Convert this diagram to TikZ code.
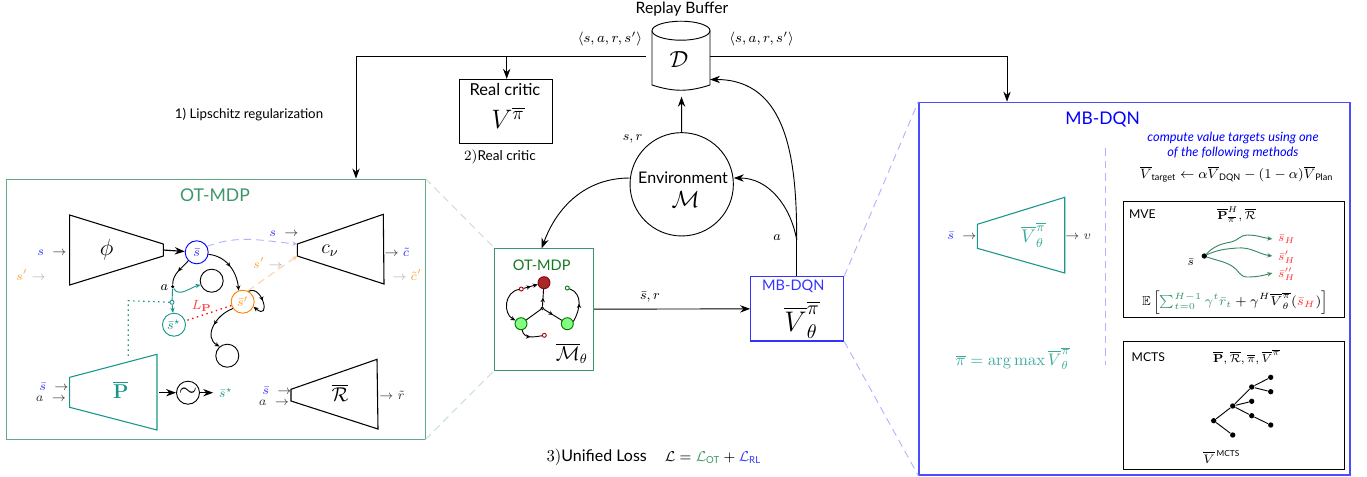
\documentclass[tikz,border=0pt]{standalone}
\usepackage{fix-cm}
\usepackage{amsmath,amssymb}
\usepackage[no-math]{fontspec}
\setmainfont[Scale=0.96]{Lato}
\usetikzlibrary{arrows.meta,decorations.markings,fit}
\definecolor{otgreen}{RGB}{60,150,105}
\definecolor{otdark}{RGB}{20,120,30}
\definecolor{tealnet}{RGB}{25,150,140}
\definecolor{tealsoft}{RGB}{60,170,155}
\definecolor{sprime}{RGB}{250,160,50}
\definecolor{brownred}{RGB}{165,42,42}
\newcommand{\sbar}{\bar{s}}
\newcommand{\bV}{\overline{V}}
\newcommand{\bpi}{\overline{\pi}}
\newcommand{\bP}{\overline{\mathbf{P}}}
\newcommand{\bR}{\overline{\mathcal{R}}}
\newcommand{\fsize}[1]{\fontsize{#1}{#1}\selectfont}
\tikzset{
    bigtip/.style={-{Stealth[length=6pt,width=4.4pt]}},
    smalltip/.style={-{Stealth[length=3pt,width=2.6pt]}},
    midtip/.style={postaction={decorate},decoration={markings,mark=at position 0.5 with {\arrow{Stealth[length=2.6pt,width=2.6pt]}}}},
    statenode/.style={circle,draw,inner sep=0pt,minimum size=13.8pt},
    tinynode/.style={circle,draw,inner sep=0pt,minimum size=2.4pt},
    dotnode/.style={circle,fill,inner sep=0pt,minimum size=3.2pt},
    bignode/.style={circle,inner sep=0pt,minimum size=7.2pt},
    bignet/.style={line width=0.65pt},
    framebox/.style={draw,inner sep=0pt,line width=0.55pt},
    fadeblue/.style={blue!30,dash pattern=on 4.5pt off 3pt},
    fadegreen/.style={otgreen!30,dash pattern=on 4.5pt off 3pt},
    spaced/.style={dash pattern=on 0.8pt off 2.2pt},
}
\begin{document}
\begin{tikzpicture}[x=0.6pt,y=-0.6pt,>=stealth,line width=0.55pt]
    \useasboundingbox (0,0) rectangle (1367,476);

    % replay buffer and environment
    \node (buffertitle) at (682,9) {\fsize{9.8}Replay Buffer};
    \node (buffer) [minimum width=34.8pt,minimum height=42pt,inner sep=0pt] at (681,56) {};
    \draw (652,30.7) arc (180:-180:29 and 9.5);
    \draw (652,30.7) -- (652,85) to[bend right=18] (710,85) -- (710,30.7);
    \node (bufferlabel) at (679,60) {\fsize{14}$\mathcal{D}$};
    \node (env) [circle,draw,inner sep=0pt,minimum size=62pt] at (681.7,184.3) {};
    \node (envtext) at (683,178) {Environment};
    \node (envmath) at (685.7,200) {\fsize{14}$\mathcal{M}$};
    \node (srtop) at (632.7,139) {\fsize{8}$s,r$};
    \node (tupleL) at (610,39) {\fsize{8.4}$\langle s,a,r,s'\rangle$};
    \node (tupleR) at (761.7,39) {\fsize{8.4}$\langle s,a,r,s'\rangle$};

    % real critic
    \coordinate (criticnw) at (459.7,79.3);
    \coordinate (criticse) at (552.7,143.3);
    \node (critic) [framebox,fit=(criticnw)(criticse)] {};
    \node (crittitle) at (505,89) {\fsize{10.3}Real critic};
    \node (critmath) at (508,118) {\fsize{16}$V^{\bpi}$};
    \node (critcaption) at (500,156.7) {\fsize{8.5}$2)$Real critic};
    \node (lipschitz) at (249,115) {\fsize{8.3}1) Lipschitz regularization};

    % small OT-MDP box
    \coordinate (otsmallnw) at (494.7,248.3);
    \coordinate (otsmallse) at (593.7,370);
    \node (otsmall) [framebox,draw=otgreen,fit=(otsmallnw)(otsmallse)] {};
    \node (otsmalltitle) at (541.7,265.7) {\fsize{9.1}\color{otdark}OT-MDP};
    \node (mbar) at (571.7,353.3) {\fsize{12}$\overline{\mathcal{M}}_\theta$};
    \node (red) [bignode,draw=red!60!black,fill=brownred] at (544,282.7) {};
    \node (gleft) [bignode,draw=green!45!black,fill=green!50!white] at (521,323.7) {};
    \node (gright) [bignode,draw=green!45!black,fill=green!50!white] at (567.3,323.7) {};
    \node (junction) [tinynode,minimum size=1.6pt] at (542.3,308.3) {};
    \node (redA) [tinynode,draw=red!70!black] at (521.3,289) {};
    \node (redB) [tinynode,draw=red!70!black] at (544.3,335.3) {};
    \node (greenA) [tinynode,draw=green!50!black] at (567.3,288) {};
    \draw (gleft) -- (junction);
    \draw[midtip] (junction) -- (gright);
    \draw[midtip] (junction) -- (red);
    \draw[midtip,smalltip] (redA) -- (red);
    \draw[smalltip] (redA) to[out=190,in=150,looseness=1.2] (gleft);
    \draw[midtip] (gright.20) to[out=60,in=-20,looseness=1.1] (greenA);
    \draw[midtip] (gleft.-80) to[out=-80,in=190,looseness=1.1] (redB);

    % small MB-DQN box
    \coordinate (mbsmallnw) at (750.7,276.7);
    \coordinate (mbsmallse) at (843.7,341);
    \node (mbsmall) [framebox,draw=blue!80,line width=0.65pt,fit=(mbsmallnw)(mbsmallse)] {};
    \node (mbsmalltitle) at (793.3,286.7) {\fsize{9.1}\color{blue!80}MB-DQN};
    \node (mbsmallmath) at (802,320) {\fsize{17}$\bV^{\bpi}_\theta$};
    \node (srmid) at (650,296.7) {\fsize{8}$\sbar,r$};
    \node (alabel) at (777,238) {\fsize{8}$a$};

    % big OT-MDP box
    \coordinate (otbignw) at (6,179);
    \coordinate (otbigse) at (425,439);
    \node (otbig) [framebox,draw=otgreen!80,fit=(otbignw)(otbigse)] {};
    \node (otbigtitle) at (215,195) {\fsize{11}\color{otgreen}OT-MDP};
    \draw[bignet] (69.7,215) -- (163.3,244) -- (163.3,256) -- (69.7,285) -- cycle;
    \node (phi) at (106.7,250) {\fsize{14}$\phi$};
    \node (sin) at (52,252.3) {\fsize{7.5}$\color{blue!80}s\;\color{black!80}\rightarrow$};
    \node (sprimein) at (31,275) {\fsize{7.5}$\color{sprime}s'\color{black!30}\rightarrow$};
    \draw[bignet] (297.3,244) -- (383.3,214.3) -- (384,284) -- (297.3,256) -- cycle;
    \node (cnu) at (330,250.7) {\fsize{12}$c_\nu$};
    \node (cout) at (397,252) {\fsize{7.5}$\color{black!80}\rightarrow\color{blue!80}\tilde{c}$};
    \node (cpout) at (407,275) {\fsize{7.5}$\color{black!30}\rightarrow\color{sprime}\tilde{c}'$};
    \node (scritic) at (284,234) {\fsize{7.5}$\color{blue!80}s\;\color{black!80}\rightarrow$};
    \node (spcritic) at (268,263) {\fsize{7.5}$\color{sprime}s'\color{black!30}\rightarrow$};
    \coordinate (phiout) at (163.3,250);
    \coordinate (cnuA) at (297.3,244);
    \coordinate (cnuB) at (297.3,256);

    \node (sb) [statenode,draw=blue] at (196.7,252.3) {\fsize{8}$\color{blue!80}\sbar$};
    \node (sp) [statenode,draw=orange] at (242.7,301.7) {\fsize{8}$\color{sprime}\sbar'$};
    \node (ss) [statenode,draw=tealnet] at (174,324.7) {\fsize{8}$\color{tealnet}\sbar^\star$};
    \node (blankA) [statenode] at (211.7,280.7) {};
    \node (blankB) [statenode] at (227.3,355.7) {};
    \node (adot) [circle,fill,inner sep=0pt,minimum size=2pt] at (172.7,286.7) {};
    \node (alab) at (164.3,287.3) {\fsize{8}$a$};
    \node (tiny) [tinynode,draw=tealnet] at (172,302.3) {};
    \node (lp) at (201.7,306) {\fsize{8}$\color{red!75}L_{\mathbf{P}}$};
    \coordinate (dotbend) at (128.3,300.7);
    \coordinate (dotend) at (128.3,356.7);
    \draw[bigtip,line width=0.7pt] (phiout) -- (sb);
    \draw[fadeblue,smalltip] (sb.30) to[out=20,in=175] (cnuA);
    \draw[orange!40,dash pattern=on 4.5pt off 3pt,smalltip] (sp.65) -- (cnuB);
    \draw[midtip,smalltip] (sb.-10) to[out=-5,in=95] (sp.110);
    \draw[midtip] (sb.225) to[out=230,in=90] (adot);
    \draw[tealnet,smalltip] (adot) to[out=-60,in=195] (blankA.200);
    \draw[tealnet] (adot) -- (tiny);
    \draw[tealnet,smalltip] (tiny) -- (ss);
    \draw[midtip,smalltip] (sp.60) .. controls (262,284) and (272,322) .. (sp.-25);
    \draw[midtip,smalltip] (sp.215) to[out=200,in=150,looseness=1.2] (blankB.130);
    \draw[red,spaced,line width=0.8pt] (sp) -- (ss);
    \draw[tealnet,spaced,line width=0.7pt] (tiny) -- (dotbend) -- (dotend);

    \draw[bignet,tealnet] (69.7,377.3) -- (157,354.3) -- (157,430) -- (69.7,407.3) -- cycle;
    \node (pnet) at (120.7,390) {\fsize{12}$\color{tealnet}\bP$};
    \node (sbarP) at (54,386.7) {\fsize{7.5}$\color{blue!80}\sbar\;\color{black!80}\rightarrow$};
    \node (aP) at (51,398.3) {\fsize{7.5}$\color{black!80}a\;\rightarrow$};
    \node (sim) [statenode] at (188,392.7) {\fsize{14}$\sim$};
    \node (starout) at (226,392.7) {\fsize{7.5}$\color{tealnet}\sbar^\star$};
    \coordinate (pout) at (159,392.7);
    \draw[bigtip,line width=0.7pt] (pout) -- (sim);
    \draw[bigtip,line width=0.7pt] (sim) -- (starout);

    \draw[bignet] (291,389.3) -- (377,359.3) -- (378,429) -- (291,401) -- cycle;
    \node (rnet) at (340,393) {\fsize{12}$\bR$};
    \node (sbarR) at (277,390.7) {\fsize{7.5}$\color{blue!80}\sbar\;\color{black!80}\rightarrow$};
    \node (aR) at (274,402.3) {\fsize{7.5}$\color{black!80}a\;\rightarrow$};
    \node (rout) at (392,395.7) {\fsize{7.5}$\color{black!80}\rightarrow\tilde{r}$};

    % big MB-DQN box
    \coordinate (mbbignw) at (919,102.3);
    \coordinate (mbbigse) at (1350,475);
    \node (mbbig) [framebox,draw=blue!70,line width=0.8pt,fit=(mbbignw)(mbbigse)] {};
    \node (mbbigtitle) at (1102.7,119) {\fsize{10.9}\color{blue}MB-DQN};
    \node (methods) [align=center,inner sep=0pt,font=\fontsize{8}{9}\selectfont\itshape,text=blue] at (1233,145) {compute value targets using one\\ of the following methods};
    \node (vtarget) at (1236.7,174) {\fsize{8.1}$\bV_{\text{target}}\leftarrow\alpha\bV_{\text{DQN}}-(1-\alpha)\bV_{\text{Plan}}$};
    \coordinate (splittop) at (1105.7,148);
    \coordinate (splitbot) at (1105.7,365);
    \draw[fadeblue] (splittop) -- (splitbot);
    \draw[bignet,tealnet] (977.3,224.3) -- (1064.7,197.3) -- (1064.7,273) -- (977.3,248.3) -- cycle;
    \node (vnet) at (1033.3,235) {\fsize{11}$\color{tealsoft}\bV^{\bpi}_\theta$};
    \node (vin) at (962,236) {\fsize{7.5}$\color{blue!80}\sbar\;\color{black!80}\rightarrow$};
    \node (vout) at (1078.3,237) {\fsize{7.5}$\color{black!80}\rightarrow v$};
    \node (greedy) at (1013,358.3) {\fsize{10}$\color{tealsoft}\bpi=\arg\max\bV^{\bpi}_\theta$};

    % MVE
    \coordinate (mvenw) at (1123.3,201.7);
    \coordinate (mvese) at (1344,317.7);
    \node (mve) [framebox,fit=(mvenw)(mvese)] {};
    \node (mvetitle) at (1142.3,214.3) {\fsize{7.6}MVE};
    \node (mvemodel) at (1236.7,214.5) {\fsize{7}$\bP^{H}_{\bpi},\bR$};
    \node (mvestart) [dotnode] at (1204.3,256) {};
    \node (mves) at (1190.7,261.7) {\fsize{7}$\sbar$};
    \node (endA) at (1286.7,239) {\fsize{7}$\color{red!80}\sbar_H$};
    \node (endB) at (1286.7,257) {\fsize{7}$\color{red!80}\sbar'_H$};
    \node (endC) at (1286.7,274) {\fsize{7}$\color{red!80}\sbar''_H$};
    \coordinate (waveA) at (1231,242);
    \coordinate (waveAA) at (1247,235);
    \coordinate (waveB) at (1237,248);
    \coordinate (waveC) at (1232,266);
    \coordinate (waveCC) at (1247,277);
    \coordinate (tipA) at (1272.3,239);
    \coordinate (tipB) at (1272.3,256);
    \coordinate (tipC) at (1272.3,273);
    \draw[otgreen!90!black,smalltip] (mvestart) to[out=45,in=190] (waveA) to[out=10,in=180] (waveAA) to[out=0,in=172] (tipA);
    \draw[otgreen!90!black,smalltip] (mvestart) to[out=25,in=185] (waveB) to[out=5,in=172] (tipB);
    \draw[otgreen!90!black,smalltip] (mvestart) to[out=-20,in=150] (waveC) to[out=-30,in=180] (waveCC) to[out=0,in=195] (tipC);
    \node (mveeq) at (1235,302.3) {\fsize{7.8}$\mathbb{E}\left[\color{otgreen}\sum_{t=0}^{H-1}\gamma^t\bar{r}_t\color{black}+\gamma^H\bV^{\bpi}_\theta(\color{red!80}\sbar_H\color{black})\right]$};

    % MCTS
    \coordinate (mctsnw) at (1123.3,341);
    \coordinate (mctsse) at (1344,469);
    \node (mcts) [framebox,fit=(mctsnw)(mctsse)] {};
    \node (mctstitle) at (1148.3,356.7) {\fsize{7.6}MCTS};
    \node (mctsmodel) at (1246.7,357) {\fsize{7}$\bP,\bR,\bpi,\bV^{\bpi}$};
    \node (t0) [dotnode] at (1213.7,420.7) {};
    \node (t1) [dotnode] at (1232.7,435) {};
    \node (t2) [dotnode] at (1232.7,406) {};
    \node (t3) [dotnode] at (1251.7,387) {};
    \node (t4) [dotnode] at (1251.7,401.3) {};
    \node (t5) [dotnode] at (1251.7,415.7) {};
    \node (t6) [dotnode] at (1270.7,377.3) {};
    \node (t7) [dotnode] at (1270.7,391.7) {};
    \node (t8) [dotnode] at (1270.7,425) {};
    \draw (t1) -- (t0) -- (t2) -- (t3) -- (t6);
    \draw (t3) -- (t7);
    \draw (t2) -- (t4);
    \draw (t2) -- (t5) -- (t8);
    \node (mctsvalue) at (1221.7,456.7) {\fsize{7.4}$\bV^{\,\text{MCTS}}$};

    % loss
    \node (losstext) at (596.7,457.7) {$3)$Unified Loss};
    \node (losseq) at (713,458) {\fsize{8.6}$\mathcal{L}=\color{otgreen}\mathcal{L}_{\text{OT}}\color{black}+\color{blue!80}\mathcal{L}_{\text{RL}}$};

    % main connectors
    \coordinate (leftgap) at (646,56);
    \coordinate (leftcorner) at (356,56);
    \coordinate (rightcorner) at (1007,56);
    \coordinate (branch) at (506.7,56);
    \coordinate (bufferin) at (710,79.5);
    \coordinate (bufferbelow) at (681.5,96.7);
    \coordinate (envsplit) at (796.7,240);
    \draw (leftgap) -- (leftcorner);
    \draw[bigtip] (leftcorner) -- (leftcorner |- otbig.north);
    \draw[bigtip] (branch) -- (branch |- critic.north);
    \draw (buffer.east) -- (rightcorner);
    \draw[bigtip] (rightcorner) -- (rightcorner |- mbbig.north);
    \draw[bigtip] (env.north) -- (bufferbelow);
    \draw[bigtip] (env.west |- envtext) to[out=180,in=70] (541.7,248.3);
    \draw[bigtip] (otsmall.east) -- (mbsmall.west);
    \draw (mbsmall.north -| envsplit) -- (envsplit);
    \draw[bigtip] (envsplit) to[out=90,in=0,looseness=1.1] (bufferin);
    \draw[bigtip] (envsplit) to[out=100,in=0] (env.east |- envtext);

    % zoom guides
    \draw[fadegreen] (otbig.north east) -- (otsmall.north west);
    \draw[fadegreen] (otbig.south east) -- (otsmall.south west);
    \draw[fadeblue] (mbsmall.north east) -- (mbbig.north west);
    \draw[fadeblue] (mbsmall.south east) -- (mbbig.south west);
\end{tikzpicture}
\end{document}
